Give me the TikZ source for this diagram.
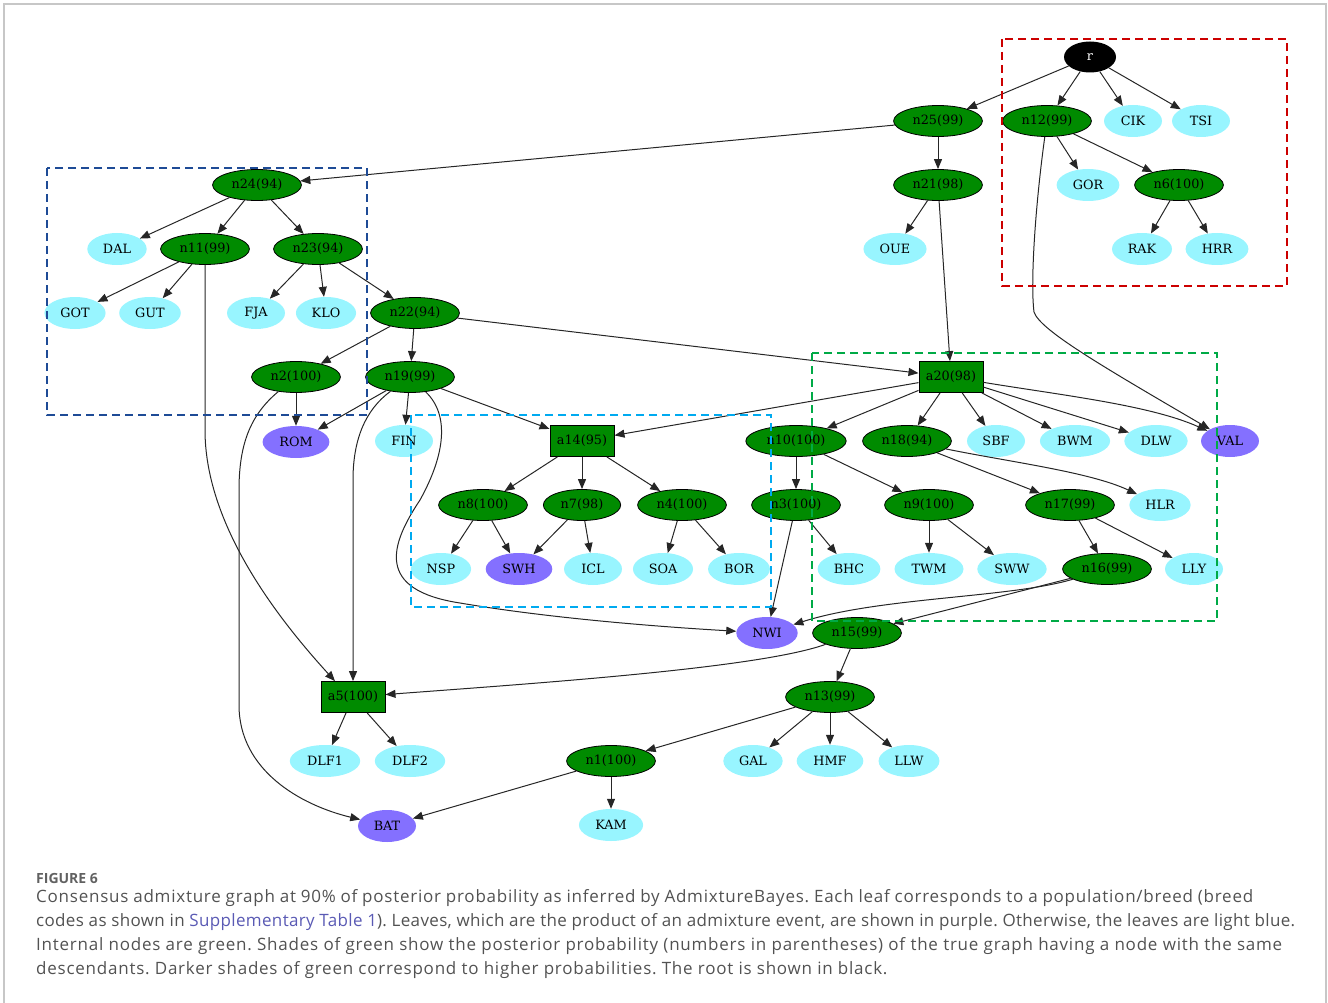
\documentclass[tikz,border=0pt]{standalone}
\usepackage{fontspec}
\setsansfont{Open Sans}
\newfontfamily\gvfont{DejaVu Serif}
\newfontfamily\capfont[LetterSpace=4.5]{Open Sans}
\newfontfamily\captight[LetterSpace=2]{Open Sans}
\usepackage{tikz}
\usetikzlibrary{shapes.geometric}
\usetikzlibrary{arrows.meta}
\definecolor{gvgreen}{RGB}{0,139,0}
\definecolor{gvcyan}{RGB}{152,245,255}
\definecolor{gvpurple}{RGB}{132,112,255}
\definecolor{boxred}{RGB}{204,0,0}
\definecolor{boxblue}{RGB}{30,75,150}
\definecolor{boxcyan}{RGB}{0,170,240}
\definecolor{boxgreen}{RGB}{0,170,70}
\definecolor{linkcol}{RGB}{90,90,180}
\tikzset{
  >={Triangle[length=10pt,width=8pt]},
  gvtext/.style={font=\gvfont\fontsize{12.8}{14}\selectfont},
  inner/.style={gvtext,ellipse,draw=black,line width=0.8pt,fill=gvgreen,
    inner xsep=6pt,inner ysep=2pt,minimum height=31pt},
  admix/.style={gvtext,rectangle,draw=black,line width=0.8pt,fill=gvgreen,
    inner xsep=7pt,inner ysep=2pt,minimum height=31pt},
  leaf/.style={gvtext,ellipse,fill=gvcyan,inner xsep=7pt,inner ysep=2pt,
    minimum width=58pt,minimum height=32pt},
  mixleaf/.style={leaf,fill=gvpurple},
  root/.style={gvtext,ellipse,fill=black,text=white,minimum width=52pt,minimum height=31pt},
  edge/.style={->,line width=1pt,black!85},
  group/.style={dash pattern=on 8pt off 5pt,line width=2.3pt},
  capline/.style={font=\capfont\fontsize{17}{24}\selectfont,text=black!68,inner sep=0pt,anchor=base west},
}

\begin{document}
\frenchspacing
\begin{tikzpicture}[x=1pt,y=-1pt]
\useasboundingbox (0,0) rectangle (1328,1003);

% Outer frame
\draw[black!22,line width=1.2pt] (4,1003) -- (4,4) -- (1326,4) -- (1326,1003);

% ---------- Nodes ----------
\node[root] (r) at (1090,57) {r};

% Internal nodes
\foreach \nd/\pp/\x/\y in {
  n25/99/938/121, n12/99/1047/121, n24/94/257/185, n21/98/938/185,
  n6/100/1179/185, n11/99/205/249, n23/94/318/249, n22/94/415/313,
  n2/100/296/377, n19/99/410/377, n10/100/796/441, n18/94/907/441,
  n8/100/483/505, n7/98/582/505, n4/100/682/505, n3/100/796/505,
  n9/100/929/505, n17/99/1070/505, n16/99/1107/569, n15/99/857/633,
  n13/99/830/697, n1/100/611/761%
}{
  \node[inner] (\nd) at (\x,\y) {\nd(\pp)};
}

% Admixture nodes
\foreach \nd/\pp/\x/\y in {a20/98/951/377, a14/95/582/441, a5/100/353/697}{
  \node[admix] (\nd) at (\x,\y) {\nd(\pp)};
}

% Leaves
\foreach \nd/\x/\y in {
  CIK/1133/121, TSI/1201/121, GOR/1088/185, DAL/117/249, OUE/895/249,
  RAK/1142/249, HRR/1217/249, GOT/75/313, GUT/150/313, FJA/256/313,
  KLO/326/313, FIN/404/441, SBF/996/441, BWM/1075/441, DLW/1156/441,
  HLR/1160/505, NSP/441/569, ICL/593/569, SOA/663/569, BOR/739/569,
  BHC/849/569, TWM/929/569, SWW/1012/569, LLY/1194/569, DLF1/325/761,
  DLF2/410/761, GAL/753/761, HMF/830/761, LLW/909/761, KAM/611/825%
}{
  \node[leaf] (\nd) at (\x,\y) {\nd};
}

% Admixed leaves
\foreach \nd/\x/\y in {VAL/1230/441, ROM/296/442, SWH/519/569, NWI/767/633, BAT/387/826}{
  \node[mixleaf] (\nd) at (\x,\y) {\nd};
}

% ---------- Edges ----------
\foreach \a/\b in {
  r/n25, r/n12, r/CIK, r/TSI, n25/n24, n25/n21, n12/GOR, n12/n6,
  n6/RAK, n6/HRR, n21/OUE, n21/a20, n24/DAL, n24/n11, n24/n23,
  n11/GOT, n11/GUT, n23/FJA, n23/KLO, n23/n22, n22/n2, n22/n19,
  n22/a20, n2/ROM, n19/ROM, n19/FIN, n19/a14, a20/a14, a20/n10,
  a20/n18, a20/SBF, a20/BWM, a20/DLW, a14/n8, a14/n7, a14/n4,
  n8/NSP, n8/SWH, n7/SWH, n7/ICL, n4/SOA, n4/BOR, n10/n3, n10/n9,
  n3/BHC, n3/NWI, n9/TWM, n9/SWW, n18/n17, n17/n16, n17/LLY,
  n16/n15, n15/n13, a5/DLF1, a5/DLF2, n13/n1, n13/GAL, n13/HMF,
  n13/LLW, n1/BAT, n1/KAM%
}{
  \draw[edge] (\a) -- (\b);
}

% Curved edges
\draw[edge] (n12) .. controls (1036,200) and (1030,280) .. (1034,312)
  .. controls (1040,330) and (1100,365) .. (VAL);
\draw[edge] (a20) .. controls (1060,395) and (1150,405) .. (VAL);
\draw[edge] (n18) .. controls (1010,462) and (1090,472) .. (HLR);
\draw[edge] (n11) -- (205,430) .. controls (205,520) and (270,610) .. ([xshift=-18pt]a5.north);
\draw[edge] (n2) .. controls (250,415) and (239,445) .. (239,490) -- (239,705)
  .. controls (239,770) and (300,805) .. (BAT);
\draw[edge] (n19) .. controls (365,410) and (353,440) .. (353,480) -- (a5);
\draw[edge] (n19) .. controls (450,415) and (445,455) .. (420,500)
  .. controls (390,545) and (375,590) .. (460,603)
  .. controls (560,620) and (680,628) .. (NWI);
\draw[edge] (n16) .. controls (1010,598) and (880,597) .. (NWI);
\draw[edge] (n15) .. controls (760,668) and (540,683) .. (a5);

% ---------- Groups ----------
\draw[group,boxred] (1002,39) rectangle (1287,286);
\draw[group,boxblue] (47,168) rectangle (367,415);
\draw[group,boxcyan] (411,415) rectangle (771,607);
\draw[group,boxgreen] (812,353) rectangle (1217,621);

% ---------- Caption ----------
\node[capline,font=\sffamily\bfseries\fontsize{14}{16}\selectfont,text=black!62] (fighead) at (36,883) {FIGURE 6};
\node[capline] (cap1) at (36,902) {\makebox[1217pt][s]{Consensus admixture graph at 90\% of posterior probability as inferred by AdmixtureBayes. Each leaf corresponds to a population/breed (breed}};
\node[capline,font=\captight\fontsize{17}{24}\selectfont] (cap2) at (36,926) {\makebox[1259pt][s]{codes as shown in \textcolor{linkcol}{Supplementary Table 1}). Leaves, which are the product of an admixture event, are shown in purple. Otherwise, the leaves are light blue.}};
\node[capline] (cap3) at (36,950) {\makebox[1246pt][s]{Internal nodes are green. Shades of green show the posterior probability (numbers in parentheses) of the true graph having a node with the same}};
\node[capline] (cap4) at (36,974) {descendants. Darker shades of green correspond to higher probabilities. The root is shown in black.};

\end{tikzpicture}
\end{document}
